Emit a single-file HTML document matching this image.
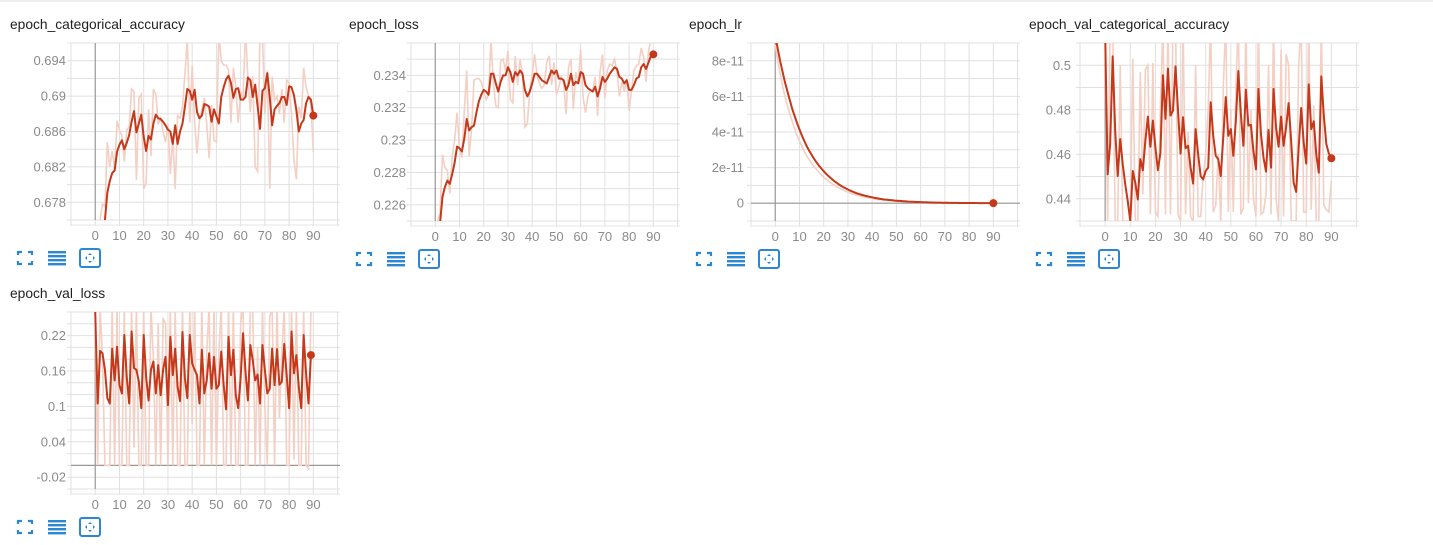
<!DOCTYPE html>
<html><head><meta charset="utf-8">
<style>
html,body{margin:0;padding:0;background:#fff;}
svg{display:block;font-family:"Liberation Sans",Arial,sans-serif;}
.title{font-size:13.8px;fill:#212121;}
.tick{font-size:13px;fill:#8a8a8a;}
</style></head>
<body>
<svg id="root" width="1433" height="545" viewBox="0 0 1433 545" xmlns="http://www.w3.org/2000/svg">
<rect x="0" y="0" width="1433" height="2" fill="#eee"/>
</svg>
<script>
const xTicks = [0,10,20,30,40,50,60,70,80,90];
const xTickLabels = ["0","10","20","30","40","50","60","70","80","90"];

const accSmooth = [0.670,0.672,0.674,0.675,0.6760,0.6791,0.6804,0.6813,0.6816,0.6837,0.6845,0.6850,0.6840,0.6847,0.6856,0.6871,0.6883,0.6859,0.6869,0.6879,0.6854,0.6838,0.6855,0.6851,0.6869,0.6879,0.6875,0.6874,0.6871,0.6867,0.6862,0.6860,0.6846,0.6867,0.6846,0.6860,0.6869,0.6888,0.6908,0.6906,0.6896,0.6907,0.6882,0.6875,0.6878,0.6891,0.6890,0.6888,0.6871,0.6885,0.6877,0.6869,0.6899,0.6910,0.6919,0.6923,0.6915,0.6898,0.6908,0.6909,0.6896,0.6896,0.6899,0.6921,0.6918,0.6899,0.6913,0.6889,0.6863,0.6906,0.6909,0.6926,0.6899,0.6867,0.6885,0.6889,0.6892,0.6899,0.6899,0.6890,0.6911,0.6910,0.6901,0.6884,0.6860,0.6869,0.6873,0.6892,0.6899,0.6896,0.6878];
const accRaw = [0.672,0.674,0.676,0.6778,0.6775,0.6848,0.682,0.6838,0.6818,0.6872,0.6862,0.6855,0.6826,0.6862,0.6865,0.6908,0.6905,0.6805,0.6898,0.6902,0.6795,0.6802,0.6885,0.6832,0.6908,0.6902,0.6868,0.6875,0.6860,0.6848,0.6868,0.6812,0.6855,0.6795,0.6878,0.6875,0.6888,0.6925,0.6965,0.6870,0.6935,0.6870,0.6835,0.6872,0.6885,0.6898,0.6868,0.6830,0.6890,0.6850,0.6848,0.6970,0.6940,0.6935,0.6935,0.6930,0.6870,0.6932,0.6910,0.6870,0.6905,0.6898,0.6975,0.6920,0.6882,0.6922,0.6820,0.6815,0.6975,0.6970,0.6880,0.6928,0.6795,0.6922,0.6895,0.6900,0.6880,0.6908,0.6870,0.6918,0.6915,0.6880,0.6828,0.6806,0.6888,0.6875,0.6932,0.6910,0.6900,0.6890,0.6837];
const accYTicks = [0.678,0.682,0.686,0.69,0.694];
const accYLabels = ["0.678","0.682","0.686","0.69","0.694"];

const lossSmooth = [0.2235,0.2240,0.2249,0.2265,0.2271,0.2275,0.2273,0.2279,0.2286,0.2296,0.2295,0.2293,0.2301,0.2313,0.2306,0.2308,0.2309,0.2317,0.2324,0.2328,0.2331,0.2330,0.2328,0.2341,0.2341,0.2335,0.2330,0.2336,0.2340,0.2340,0.2345,0.2342,0.2336,0.2342,0.2340,0.2343,0.2341,0.2331,0.2327,0.2330,0.2335,0.2341,0.2341,0.2339,0.2337,0.2336,0.2335,0.2339,0.2343,0.2341,0.2343,0.2338,0.2338,0.2337,0.2331,0.2334,0.2341,0.2334,0.2336,0.2335,0.2342,0.2341,0.2334,0.2332,0.2331,0.2330,0.2333,0.2327,0.2332,0.2339,0.2336,0.2338,0.2341,0.2343,0.2345,0.2344,0.2339,0.2338,0.2335,0.2337,0.2331,0.2331,0.2334,0.2338,0.2339,0.2345,0.2347,0.2344,0.2348,0.2352,0.2353];
const lossRaw = [0.2235,0.2250,0.2255,0.2291,0.2283,0.2281,0.2267,0.2290,0.2300,0.2317,0.2295,0.2289,0.2318,0.2343,0.2290,0.2307,0.2337,0.2338,0.2338,0.2336,0.2330,0.2325,0.2328,0.2362,0.2335,0.2321,0.2320,0.2349,0.2350,0.2343,0.2355,0.2325,0.2323,0.2352,0.2334,0.2350,0.2341,0.2308,0.2310,0.2331,0.2340,0.2353,0.2340,0.2335,0.2332,0.2334,0.2348,0.2352,0.2334,0.2348,0.2328,0.2333,0.2339,0.2335,0.2316,0.2345,0.2350,0.2319,0.2342,0.2335,0.2356,0.2327,0.2317,0.2327,0.2330,0.2331,0.2339,0.2315,0.2342,0.2353,0.2326,0.2343,0.2347,0.2346,0.2350,0.2342,0.2327,0.2336,0.2330,0.2338,0.2318,0.2331,0.2343,0.2346,0.2347,0.2357,0.2351,0.2336,0.2355,0.2362,0.2365];
const lossYTicks = [0.226,0.228,0.23,0.232,0.234];
const lossYLabels = ["0.226","0.228","0.23","0.232","0.234"];

const lrSmooth = [9.4,8.7,8.0,7.4,6.8,6.3,5.8,5.3,4.9,4.5,4.15,3.8,3.5,3.2,2.95,2.72,2.5,2.3,2.12,1.95,1.8,1.65,1.52,1.4,1.28,1.18,1.08,0.99,0.91,0.84,0.77,0.7,0.65,0.59,0.54,0.5,0.46,0.42,0.39,0.36,0.33,0.3,0.28,0.25,0.23,0.21,0.2,0.18,0.17,0.15,0.14,0.13,0.12,0.11,0.1,0.09,0.085,0.08,0.07,0.065,0.06,0.055,0.05,0.045,0.04,0.038,0.035,0.032,0.03,0.027,0.025,0.022,0.02,0.018,0.017,0.015,0.014,0.013,0.012,0.011,0.01,0.009,0.008,0.008,0.007,0.006,0.006,0.005,0.005,0.004,0.004];
const lrRaw = [8.9,8.0,7.3,6.6,6.0,5.5,5.0,4.6,4.2,3.8,3.5,3.2,2.9,2.65,2.45,2.25,2.05,1.9,1.75,1.6,1.45,1.35,1.24,1.13,1.04,0.96,0.88,0.8,0.74,0.68,0.62,0.57,0.52,0.48,0.44,0.4,0.37,0.34,0.31,0.29,0.26,0.24,0.22,0.2,0.19,0.17,0.16,0.15,0.13,0.12,0.11,0.1,0.09,0.085,0.08,0.07,0.065,0.06,0.055,0.05,0.045,0.04,0.037,0.034,0.031,0.028,0.026,0.024,0.022,0.02];
const lrYTicks = [0,2,4,6,8];
const lrYLabels = ["0","2e-11","4e-11","6e-11","8e-11"];

const vaccSmooth = [0.515,0.451,0.4646,0.504,0.4706,0.4502,0.4668,0.4555,0.4465,0.4389,0.430,0.4525,0.4472,0.4397,0.4578,0.4528,0.466,0.4769,0.4634,0.4751,0.463,0.4528,0.4608,0.4955,0.4759,0.4985,0.4774,0.4796,0.4995,0.4796,0.4603,0.4766,0.4627,0.4638,0.454,0.4468,0.4713,0.46,0.4502,0.4487,0.4525,0.454,0.4834,0.4683,0.4593,0.4578,0.4502,0.4676,0.4857,0.4683,0.4713,0.4593,0.4751,0.4974,0.4781,0.4638,0.489,0.4729,0.4732,0.4615,0.4532,0.4894,0.4691,0.4585,0.4522,0.4709,0.454,0.4894,0.4721,0.4634,0.4769,0.4638,0.4721,0.483,0.466,0.4472,0.4431,0.463,0.4808,0.4653,0.4558,0.4914,0.4713,0.4748,0.46,0.4517,0.495,0.4774,0.4646,0.4603,0.4582];
const vaccRaw = [0.52,0.43,0.52,0.52,0.43,0.43,0.50,0.43,0.43,0.43,0.43,0.503,0.43,0.43,0.497,0.442,0.498,0.50,0.433,0.501,0.434,0.432,0.48,0.52,0.433,0.52,0.433,0.52,0.52,0.433,0.43,0.52,0.433,0.47,0.432,0.43,0.50,0.432,0.432,0.45,0.46,0.48,0.52,0.434,0.437,0.46,0.43,0.49,0.52,0.434,0.48,0.434,0.49,0.52,0.433,0.436,0.52,0.438,0.48,0.44,0.432,0.52,0.433,0.434,0.442,0.50,0.433,0.52,0.44,0.43,0.507,0.432,0.505,0.50,0.43,0.43,0.43,0.50,0.52,0.434,0.434,0.52,0.435,0.482,0.43,0.43,0.52,0.437,0.435,0.434,0.448];
const vaccYTicks = [0.44,0.46,0.48,0.5];
const vaccYLabels = ["0.44","0.46","0.48","0.5"];

const vlossSmooth = [0.26,0.105,0.194,0.19,0.162,0.114,0.105,0.198,0.144,0.201,0.136,0.122,0.221,0.15,0.105,0.227,0.165,0.162,0.142,0.097,0.221,0.15,0.11,0.162,0.176,0.122,0.17,0.119,0.162,0.184,0.102,0.218,0.153,0.198,0.133,0.109,0.226,0.148,0.114,0.221,0.173,0.162,0.153,0.105,0.196,0.122,0.144,0.19,0.13,0.184,0.13,0.136,0.193,0.136,0.095,0.218,0.153,0.196,0.119,0.097,0.148,0.224,0.159,0.11,0.204,0.178,0.144,0.154,0.105,0.204,0.162,0.122,0.13,0.198,0.136,0.197,0.137,0.142,0.206,0.153,0.097,0.227,0.156,0.187,0.133,0.097,0.221,0.156,0.105,0.187];
const vlossRaw = [0.26,0.0,0.27,0.18,0.0,0.0,0.0,0.27,0.0,0.27,0.0,0.0,0.27,0.0,0.0,0.27,0.03,0.27,0.0,0.0,0.27,0.0,0.0,0.27,0.18,0.0,0.24,0.0,0.25,0.24,0.0,0.27,0.0,0.27,0.0,0.0,0.27,0.0,0.0,0.27,0.07,0.27,0.0,0.0,0.27,0.0,0.19,0.27,0.0,0.27,0.0,0.19,0.27,0.0,0.0,0.27,0.0,0.27,0.0,0.0,0.24,0.27,0.0,0.0,0.27,0.27,0.0,0.2,0.0,0.27,0.1,0.0,0.25,0.27,0.0,0.27,0.08,0.19,0.27,0.0,0.0,0.27,0.01,0.27,0.0,0.0,0.27,0.0,-0.005,0.27];
const vlossYTicks = [-0.02,0.04,0.1,0.16,0.22];
const vlossYLabels = ["-0.02","0.04","0.1","0.16","0.22"];

const NS = "http://www.w3.org/2000/svg";
const root = document.getElementById('root');
function mk(tag, attrs, parent){
  const e = document.createElementNS(NS, tag);
  for (const k in attrs) e.setAttribute(k, attrs[k]);
  (parent||root).appendChild(e);
  return e;
}
let clipId = 0;
function chart(o){
  const g = mk('g', {});
  
  
  const xs = v => o.left + (v + 10) / 111 * (o.right - o.left);
  const ys = v => o.bottom - (v - o.y0) / (o.y1 - o.y0) * (o.bottom - o.top);
  const t = mk('text', {x:o.tx, y:o.top - 14, class:'title'}, g);
  t.textContent = o.name;
  
  
  const nSteps = Math.round((o.y1 - o.y0) / o.gstep);
  for (let i = 0; i <= nSteps; i++) {
    const y = ys(o.y0 + i * o.gstep);
    mk('line', {x1:o.left-4, x2:o.right, y1:y, y2:y, stroke:'#e0e0e0', 'stroke-width':1}, g);
  }
  for (let v = -10; v <= 100; v += 10) {
    const x = xs(v);
    mk('line', {x1:x, x2:x, y1:o.top, y2:o.bottom + 6, stroke: '#e0e0e0', 'stroke-width':1}, g);
  }
  mk('line', {x1:o.left, x2:o.right, y1:o.bottom+5, y2:o.bottom+5, stroke:'#e6e6e6'}, g);
  mk('line', {x1:xs(0), x2:xs(0), y1:o.top, y2:o.bottom, stroke:'#999', 'stroke-width':1.2}, g);
  if (o.y0 < 0 && o.y1 > 0) mk('line', {x1:o.left, x2:o.right, y1:ys(0), y2:ys(0), stroke:'#999', 'stroke-width':1.2}, g);
  o.yTicks.forEach((v, i) => {
    const l = mk('text', {x:o.left - o.lpad, y:ys(v) + 4.5, class:'tick', 'text-anchor':'end'}, g);
    l.textContent = o.yLabels[i];
    
    
  });
  xTicks.forEach((v, i) => {
    const l = mk('text', {x:xs(v), y:o.bottom + 20, class:'tick', 'text-anchor':'middle'}, g);
    l.textContent = xTickLabels[i];
    
    
  });
  const cid = 'clip' + (clipId++);
  const cp = mk('clipPath', {id:cid}, g);
  mk('rect', {x:o.left, y:o.top, width:o.right - o.left, height:o.bottom - o.top}, cp);
  const path = arr => arr.map((v, i) => (i ? 'L' : 'M') + xs(i).toFixed(2) + ',' + ys(v).toFixed(2)).join('');
  const raw = mk('path', {d:path(o.raw), fill:'none', stroke:'#f3cfc4', 'stroke-width':1.6, 'clip-path':'url(#'+cid+')'}, g);
  
  
  const sm = mk('path', {d:path(o.smooth), fill:'none', stroke:'#c5381a', 'stroke-width':2, 'stroke-linejoin':'round', 'clip-path':'url(#'+cid+')'}, g);
  
  
  const li = o.smooth.length - 1;
  const dot = mk('circle', {cx:xs(li), cy:ys(o.smooth[li]), r:4, fill:'#c5381a'}, g);
  
  
  const iy = o.bottom + 38, ix = o.tx + 8;
  const ic1 = mk('g', {}, g);
  
  
  const c = '#2b87d1';
  mk('path', {d:`M${ix},${iy-3}V${iy-6}H${ix+4} M${ix+10},${iy-6}H${ix+14}V${iy-3} M${ix},${iy+3}V${iy+6}H${ix+4} M${ix+10},${iy+6}H${ix+14}V${iy+3}`, stroke:c, 'stroke-width':2.2, fill:'none'}, ic1);
  const ic2 = mk('g', {}, g);
  
  
  for (let k = 0; k < 4; k++) mk('rect', {x:ix+30, y:iy-7 + k*4, width:18, height:2.4, fill:c}, ic2);
  const ic3 = mk('g', {}, g);
  
  
  mk('rect', {x:ix+62, y:iy-9, width:20, height:18, rx:2, fill:'none', stroke:c, 'stroke-width':2}, ic3);
  mk('path', {d:`M${ix+67},${iy}l2,-2v4z M${ix+77},${iy}l-2,-2v4z M${ix+72},${iy-5}l-2,2h4z M${ix+72},${iy+5}l-2,-2h4z`, fill:c}, ic3);
}

chart({name:'epoch_categorical_accuracy', tx:10, left:71, right:340, top:43, bottom:220, y0:0.676, y1:0.696, gstep:0.002, lpad:5, yTicks:accYTicks, yLabels:accYLabels, smooth:accSmooth, raw:accRaw});
chart({name:'epoch_loss', tx:349, left:411, right:680, top:43, bottom:221, y0:0.225, y1:0.236, gstep:0.001, lpad:5, yTicks:lossYTicks, yLabels:lossYLabels, smooth:lossSmooth, raw:lossRaw});
chart({name:'epoch_lr', tx:689, left:751, right:1020, top:43, bottom:221, y0:-1, y1:9, gstep:1, lpad:7, yTicks:lrYTicks, yLabels:lrYLabels, smooth:lrSmooth, raw:lrRaw});
chart({name:'epoch_val_categorical_accuracy', tx:1029, left:1080, right:1359, top:43, bottom:221, y0:0.43, y1:0.51, gstep:0.01, lpad:9, yTicks:vaccYTicks, yLabels:vaccYLabels, smooth:vaccSmooth, raw:vaccRaw});
chart({name:'epoch_val_loss', tx:10, left:71, right:340, top:312, bottom:489, y0:-0.04, y1:0.26, gstep:0.02, lpad:5, yTicks:vlossYTicks, yLabels:vlossYLabels, smooth:vlossSmooth, raw:vlossRaw});
</script>
</body></html>
